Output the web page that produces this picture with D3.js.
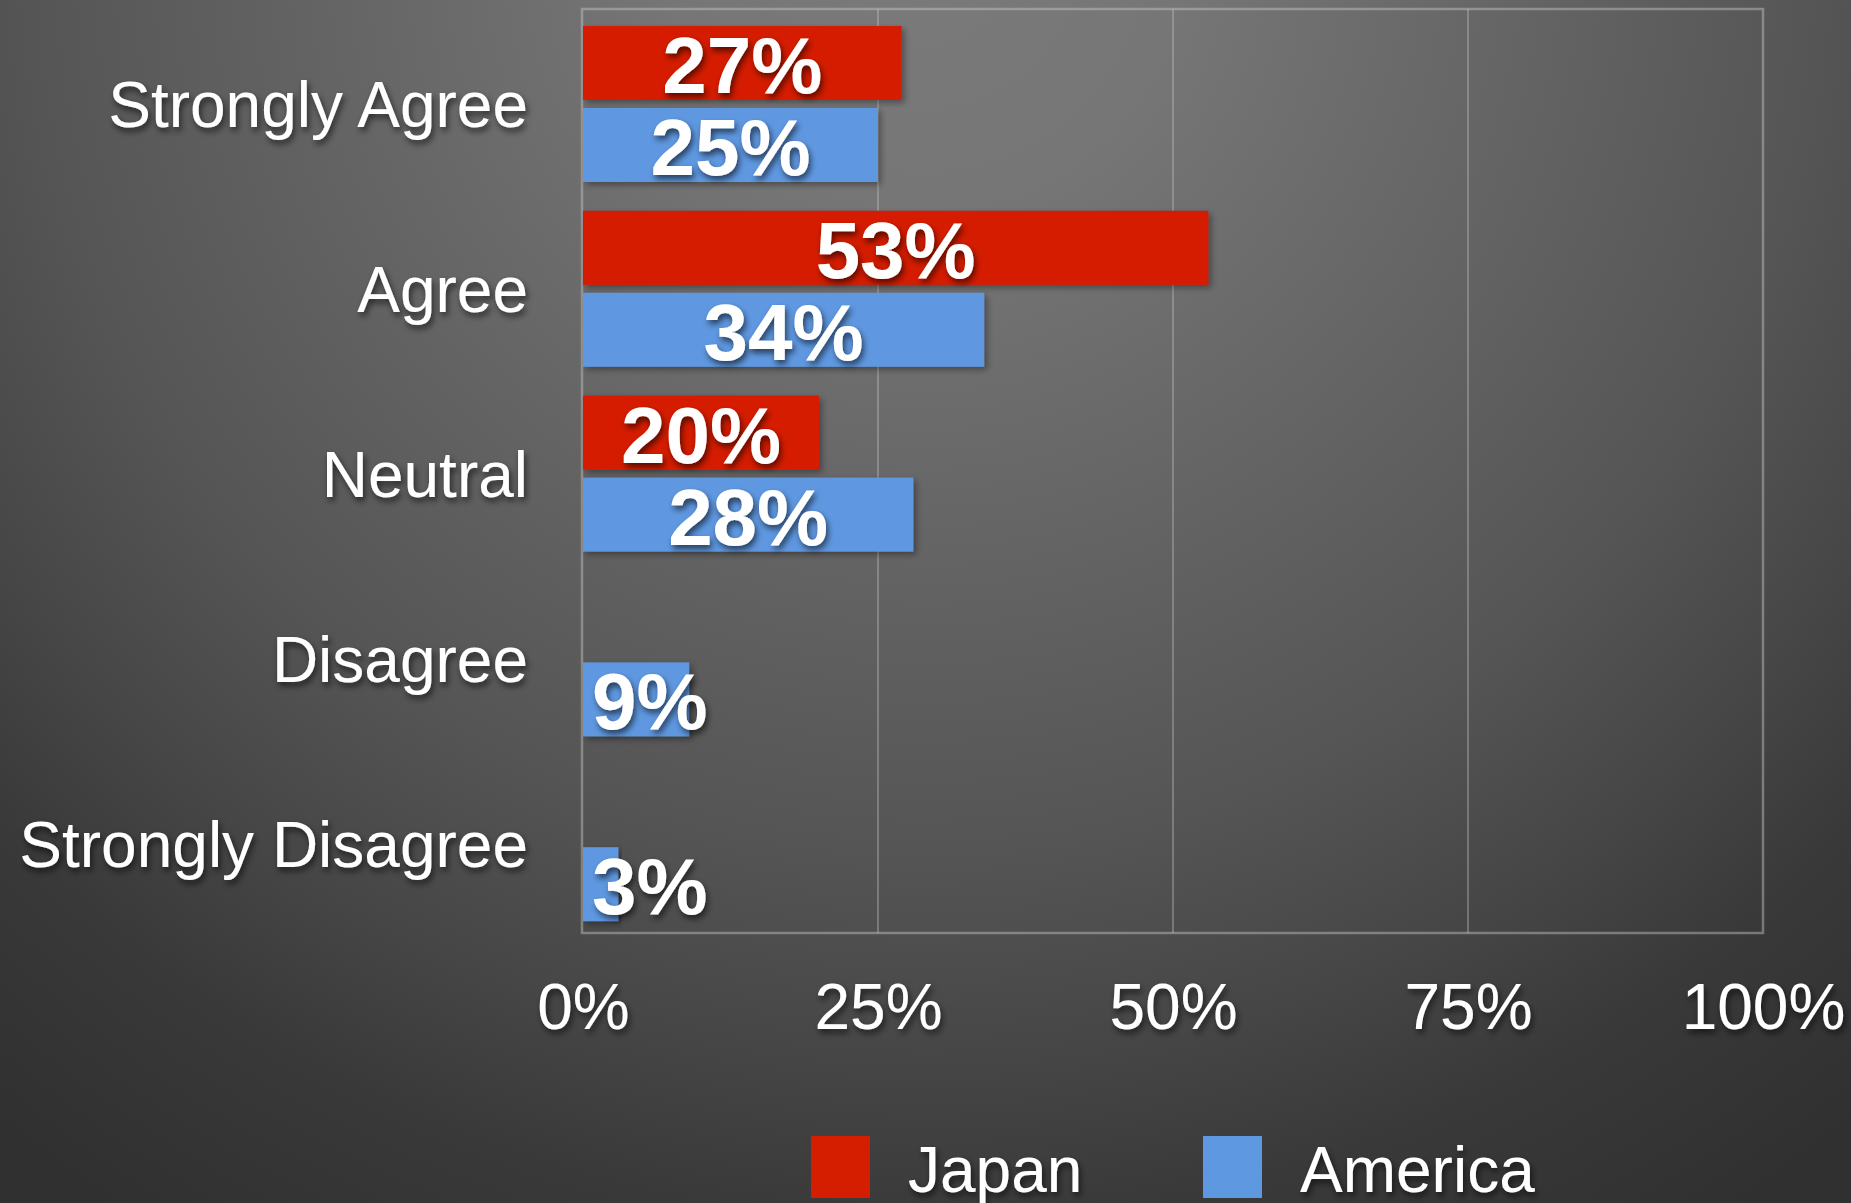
<!DOCTYPE html>
<html>
<head>
<meta charset="utf-8">
<script src="https://cdn.jsdelivr.net/npm/d3@7"></script>
<style>
  html, body { margin: 0; padding: 0; background: #3a3a3a; }
  svg { display: block; }
  text { font-family: "Liberation Sans", Helvetica, Arial, sans-serif; fill: #ffffff; }
</style>
</head>
<body>
<svg id="chart" width="1851" height="1203"></svg>
<script>
// Survey answers, percentage of respondents in each country
const categories = ["Strongly Agree", "Agree", "Neutral", "Disagree", "Strongly Disagree"];
const seriesNames = ["Japan", "America"];
const japanValues = [27, 53, 20, 0, 0];
const americaValues = [25, 34, 28, 9, 3];
const xTicks = [0, 25, 50, 75, 100];
const seriesColors = ["#d51d00", "#5e98e1"];

const W = 1851, H = 1203;
const plot = { left: 583, right: 1763, top: 9, bottom: 933 };

const svg = d3.select("#chart");
const defs = svg.append("defs");

// backdrop: soft light from the top centre fading to near-black
const bg = defs.append("radialGradient")
  .attr("id", "bg").attr("gradientUnits", "userSpaceOnUse")
  .attr("cx", 925).attr("cy", -50).attr("r", 1500);
[[0, "#7a7a7a"], [0.17, "#767676"], [0.6, "#555555"], [0.74, "#464646"], [0.85, "#393939"], [1, "#303030"]]
  .forEach(([o, c]) => bg.append("stop").attr("offset", o).attr("stop-color", c));

const textShadow = defs.append("filter").attr("id", "textShadow")
  .attr("x", "-20%").attr("y", "-30%").attr("width", "140%").attr("height", "170%");
textShadow.append("feDropShadow").attr("dx", 2).attr("dy", 4).attr("stdDeviation", 3)
  .attr("flood-color", "#000").attr("flood-opacity", 0.6);

const barShadow = defs.append("filter").attr("id", "barShadow")
  .attr("x", "-5%").attr("y", "-20%").attr("width", "115%").attr("height", "150%");
barShadow.append("feDropShadow").attr("dx", 3).attr("dy", 3).attr("stdDeviation", 3)
  .attr("flood-color", "#000").attr("flood-opacity", 0.35);

svg.append("rect").attr("width", W).attr("height", H).attr("fill", "url(#bg)");

// scales
const x = d3.scaleLinear().domain([0, 100]).range([plot.left, plot.right]);
const y0 = d3.scaleBand().domain(categories).range([plot.top, plot.bottom]).padding(0);
const y1 = d3.scaleBand().domain(seriesNames).range([17, 173]).paddingInner(8 / 82).paddingOuter(0);
const color = d3.scaleOrdinal().domain(seriesNames).range(seriesColors);

// grid and frame
const frameColor = "rgba(200,200,200,0.45)";
svg.append("g").selectAll("line").data(xTicks.slice(1, -1)).join("line")
  .attr("x1", d => x(d)).attr("x2", d => x(d))
  .attr("y1", plot.top).attr("y2", plot.bottom)
  .attr("stroke", "rgba(200,200,200,0.35)").attr("stroke-width", 2);
svg.append("rect")
  .attr("x", plot.left - 1).attr("y", plot.top)
  .attr("width", plot.right - plot.left + 1).attr("height", plot.bottom - plot.top)
  .attr("fill", "none").attr("stroke", frameColor).attr("stroke-width", 2.5);

// bars
const rows = categories.map((c, i) => ({
  category: c,
  values: [
    { series: "Japan", value: japanValues[i] },
    { series: "America", value: americaValues[i] }
  ].filter(d => d.value > 0)
}));

const groups = svg.append("g").selectAll("g").data(rows).join("g")
  .attr("transform", d => `translate(0,${y0(d.category)})`);

groups.selectAll("rect").data(d => d.values).join("rect")
  .attr("x", x(0))
  .attr("y", d => y1(d.series))
  .attr("width", d => x(d.value) - x(0))
  .attr("height", y1.bandwidth())
  .attr("fill", d => color(d.series))
  .attr("filter", "url(#barShadow)");

// value labels: centred in the bar, or set from the bar's start when too long
groups.selectAll("text").data(d => d.values).join("text")
  .text(d => d.value + "%")
  .attr("font-size", 80).attr("font-weight", 700)
  .attr("filter", "url(#textShadow)")
  .attr("y", d => y1(d.series) + y1.bandwidth() / 2 + 30)
  .each(function (d) {
    const w = this.getComputedTextLength();
    const barW = x(d.value) - x(0);
    const sel = d3.select(this);
    if (w + 18 > barW) sel.attr("text-anchor", "start").attr("x", x(0) + 9);
    else sel.attr("text-anchor", "middle").attr("x", (x(0) + x(d.value)) / 2);
  });

// category axis
const yAxis = svg.append("g").attr("transform", `translate(${plot.left},0)`)
  .call(d3.axisLeft(y0).tickSize(0).tickPadding(0));
yAxis.select(".domain").remove();
yAxis.selectAll("text")
  .attr("x", 528 - plot.left).attr("dy", 0).attr("y", 26)
  .attr("font-size", 64).attr("font-family", null).attr("fill", "#fff")
  .attr("filter", "url(#textShadow)");

// percentage axis
const xAxis = svg.append("g").attr("transform", `translate(0,${plot.bottom})`)
  .call(d3.axisBottom(x).tickValues(xTicks).tickFormat(d => d + "%").tickSize(0));
xAxis.select(".domain").remove();
xAxis.selectAll("text")
  .attr("y", 1029 - plot.bottom).attr("dy", 0)
  .attr("font-size", 64).attr("font-family", null).attr("fill", "#fff")
  .attr("filter", "url(#textShadow)");

// legend
const legend = svg.append("g").selectAll("g").data(seriesNames).join("g")
  .attr("transform", (d, i) => `translate(${811 + i * 392},1136)`);
legend.append("rect").attr("width", 59).attr("height", 62).attr("fill", d => color(d));
legend.append("text").text(d => d)
  .attr("x", 97).attr("y", 56).attr("font-size", 64)
  .attr("filter", "url(#textShadow)");
</script>
</body>
</html>
